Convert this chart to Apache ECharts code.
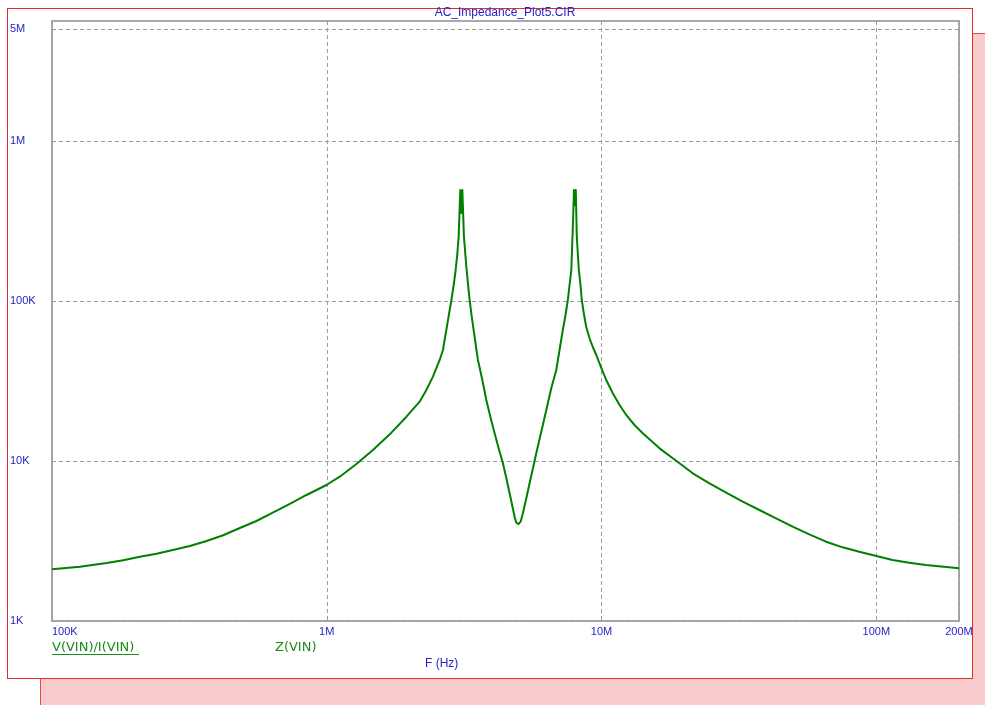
<!DOCTYPE html>
<html>
<head>
<meta charset="utf-8">
<script src="https://cdn.jsdelivr.net/npm/echarts@6/dist/echarts.min.js"></script>
<style>
html,body{margin:0;padding:0;background:#ffffff;width:985px;height:705px;overflow:hidden;}
#pink{position:absolute;left:40px;top:33px;width:945px;height:672px;background:#f8cccc;border-top:1px solid #e84a4a;border-left:1px solid #e84a4a;}
#white{position:absolute;left:7px;top:8px;width:964px;height:669px;background:#ffffff;border:1px solid #e62a2a;}
#chart{position:absolute;left:0;top:0;width:985px;height:705px;}
</style>
</head>
<body>
<div id="pink"></div>
<div id="white"></div>
<div id="chart"></div>
<script>
// Frequency (Hz) and impedance magnitude (ohm)
const freqHz = [
  1.000e5, 1.264e5, 1.581e5, 1.816e5, 2.089e5, 2.403e5, 2.754e5, 3.176e5, 3.652e5,
  4.197e5, 4.827e5, 5.548e5, 6.363e5, 7.337e5, 8.436e5, 9.975e5, 1.115e6, 1.282e6,
  1.473e6, 1.695e6, 1.950e6, 2.178e6, 2.304e6, 2.435e6, 2.490e6, 2.576e6,
  2.648e6, 2.723e6, 2.762e6, 2.842e6, 2.897e6, 2.945e6, 2.988e6, 3.020e6, 3.062e6,
  3.090e6, 3.115e6, 3.157e6, 3.221e6, 3.264e6, 3.311e6, 3.377e6, 3.451e6, 3.520e6,
  3.550e6, 3.683e6, 3.808e6, 3.938e6, 4.083e6, 4.222e6, 4.377e6, 4.504e6, 4.629e6,
  4.827e6, 4.896e6, 4.989e6, 5.075e6, 5.175e6, 5.324e6, 5.472e6, 5.788e6, 6.036e6,
  6.295e6, 6.562e6, 6.843e6, 7.034e6, 7.230e6, 7.396e6, 7.542e6, 7.650e6, 7.762e6,
  7.864e6, 7.940e6, 8.000e6, 8.060e6, 8.128e6, 8.268e6, 8.385e6, 8.474e6, 8.620e6,
  8.795e6, 9.046e6, 9.296e6, 9.570e6, 9.970e6, 1.040e7, 1.099e7, 1.163e7, 1.230e7,
  1.318e7, 1.413e7, 1.626e7, 1.869e7, 2.148e7, 2.471e7, 2.842e7, 3.265e7, 3.754e7,
  4.317e7, 4.962e7, 5.705e7, 6.561e7, 7.543e7, 8.670e7, 1.146e8, 1.318e8, 1.516e8,
  2.000e8
];
const impedanceOhm = [
  2104, 2186, 2304, 2395, 2522, 2634, 2778, 2943, 3162,
  3433, 3811, 4217, 4753, 5387, 6131, 7079, 7979, 9575,
  11720, 14680, 18920, 23480, 27780, 33650, 37060, 42800,
  49390, 65860, 76000, 101500, 125900, 156200, 198700, 252400, 494100,
  354800, 494100, 252400, 163700, 129000, 101500, 77930, 59800, 47100,
  42800, 32080, 24050, 18920, 14900, 12000, 9674, 7798, 6281,
  4487, 4115, 4038, 4175, 4711, 5845, 7254, 11170, 15250,
  20830, 28470, 37060, 49390, 65860, 81750, 101500, 125900, 156200,
  291300, 494100, 398100, 494100, 252400, 156200, 125900, 101500, 83760,
  69060, 58480, 51570, 45970, 38390, 32080, 26490, 22390, 19390,
  16790, 14900, 12000, 10040, 8375, 7254, 6337, 5568, 4940,
  4385, 3884, 3483, 3131, 2887, 2711, 2405, 2314, 2239,
  2135
];

// Tick values and labels
const xTickValues = [1e5, 1e6, 1e7, 1e8, 2e8];
const xTickLabels = ['100K', '1M', '10M', '100M', '200M'];
const yTickValues = [1e3, 1e4, 1e5, 1e6, 5e6];
const yTickLabels = ['1K', '10K', '100K', '1M', '5M'];

const titleText = 'AC_Impedance_Plot5.CIR';
const seriesName = 'V(VIN)/I(VIN)';
const seriesSubName = 'Z(VIN)';
const xAxisName = 'F (Hz)';

function labelFor(values, labels, v) {
  for (let i = 0; i < values.length; i++) {
    if (Math.abs(values[i] - v) / values[i] < 1e-6) return labels[i];
  }
  return '';
}

const blue = '#2323c8';
const green = '#1c8a1c';
const font = '"Liberation Sans", Arial, sans-serif';
const wideFont = '"DejaVu Sans", Verdana, sans-serif';

const chart = echarts.init(document.getElementById('chart'), null, {renderer: 'canvas'});
chart.setOption({
  backgroundColor: 'transparent',
  animation: false,
  grid: {
    left: 52, top: 21, right: 26, bottom: 84,
    show: true, borderColor: '#a9a9a9', borderWidth: 2, backgroundColor: 'transparent',
    containLabel: false
  },
  xAxis: {
    type: 'log', logBase: 10, min: 1e5, max: 2e8,
    axisLine: {show: false}, axisTick: {show: false, customValues: xTickValues},
    splitLine: {show: true, lineStyle: {color: '#9c9c9c', type: [4, 3], width: 1}},
    axisLabel: {
      customValues: xTickValues,
      margin: 5, color: blue, fontFamily: font, fontSize: 11,
      alignMinLabel: 'left', alignMaxLabel: 'center',
      showMinLabel: true, showMaxLabel: true,
      formatter: v => labelFor(xTickValues, xTickLabels, v)
    }
  },
  yAxis: {
    type: 'log', logBase: 10, min: 1e3, max: 5.623e6,
    axisLine: {show: false}, axisTick: {show: false, customValues: yTickValues},
    splitLine: {show: true, lineStyle: {color: '#9c9c9c', type: [4, 3], width: 1}},
    axisLabel: {
      customValues: yTickValues,
      margin: 42, align: 'left', color: blue, fontFamily: font, fontSize: 11,
      showMinLabel: true, showMaxLabel: true,
      formatter: v => labelFor(yTickValues, yTickLabels, v)
    }
  },
  series: [{
    name: seriesName,
    type: 'line',
    data: freqHz.map((f, i) => [f, impedanceOhm[i]]),
    showSymbol: false,
    smooth: false,
    lineStyle: {color: '#008000', width: 2, join: 'round'},
    itemStyle: {color: '#008000'}
  }],
  graphic: [
    {type: 'text', x: 505, y: 13, style: {text: titleText, fill: blue, font: '12px ' + font, align: 'center', verticalAlign: 'middle'}},
    {type: 'text', x: 52, y: 648, style: {text: seriesName, fill: green, font: '13px ' + wideFont, align: 'left', verticalAlign: 'middle'}},
    {type: 'line', shape: {x1: 52, y1: 654.5, x2: 139, y2: 654.5}, style: {stroke: green, lineWidth: 1}},
    {type: 'text', x: 275, y: 648, style: {text: seriesSubName, fill: green, font: '13px ' + wideFont, align: 'left', verticalAlign: 'middle'}},
    {type: 'text', x: 425, y: 664, style: {text: xAxisName, fill: blue, font: '12px ' + font, align: 'left', verticalAlign: 'middle'}}
  ]
});
</script>
</body>
</html>
